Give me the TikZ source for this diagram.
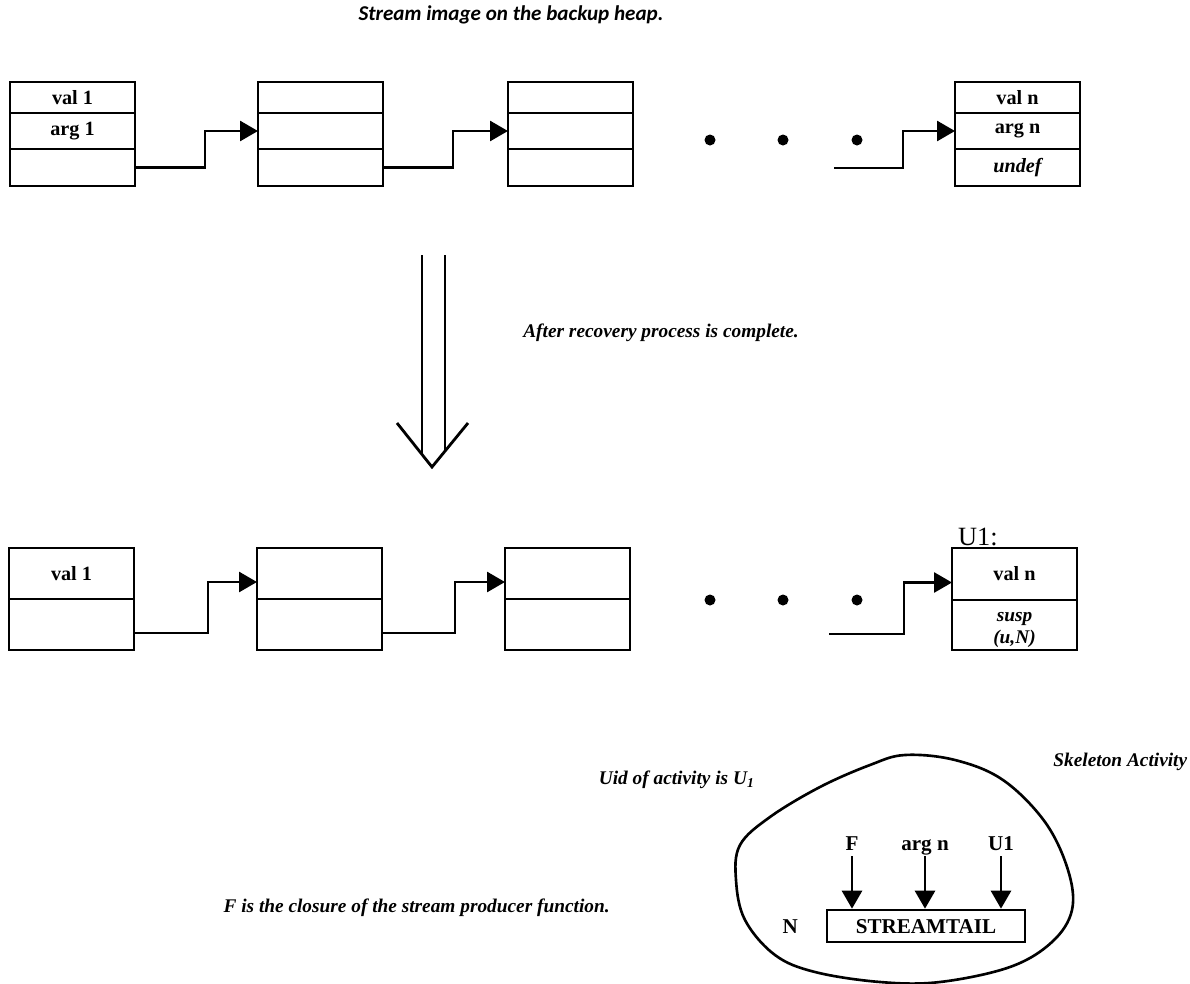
\documentclass[tikz,border=0pt]{standalone}
\usepackage{fontspec}
\setmainfont{Liberation Serif}
\newfontfamily\titlefont{Carlito}
\usetikzlibrary{arrows.meta,positioning}

\begin{document}
\begin{tikzpicture}[
  cell/.style={draw,line width=1.5pt,minimum width=2.5cm,inner sep=0pt,outer sep=0pt,font=\bfseries\fontsize{11.5}{11.5}\selectfont},
  link/.style={line width=1.6pt,-{Triangle[length=0.36cm,width=0.4cm]}},
  note/.style={font=\bfseries\itshape\fontsize{11}{13}\selectfont,inner sep=0pt},
  lab/.style={font=\bfseries\fontsize{12}{12}\selectfont,text height=8pt,text depth=0pt}]
\useasboundingbox (0,0) rectangle (23.8,-19.68);
\node[font=\titlefont\bfseries\itshape\fontsize{12}{12}\selectfont] (title) at (10.22,-0.3) {Stream image on the backup heap.};
\foreach \i/\x/\va/\ar in {1/0.2/val 1/arg 1,2/5.16//,3/10.16//}{
  \node[cell,minimum height=0.62cm,anchor=north west] (a\i v) at (\x,-1.64) {\va};
  \node[cell,minimum height=0.72cm,below=0pt of a\i v] (a\i g) {\ar};
  \node[cell,minimum height=0.74cm,below=0pt of a\i g] (a\i e) {};
}
\node[cell,minimum height=0.62cm,anchor=north west] (anv) at (19.1,-1.64) {val n};
\node[cell,minimum height=0.72cm,below=0pt of anv] (ang) {arg n};
\node[cell,minimum height=0.74cm,below=0pt of ang,font=\bfseries\itshape\fontsize{11.5}{11.5}\selectfont] (ane) {undef};
\draw[link] (a1e.east) -- ++(1.4,0) |- (a2g.west);
\draw[link] (a2e.east) -- ++(1.4,0) |- (a3g.west);
\coordinate (aout) at (16.68,-3.36);
\draw[link] (aout) -- ++(1.38,0) |- (ang.west);
\foreach \x in {14.2,15.66,17.14}{
  \fill (\x,-2.8) circle (0.11);
  \fill (\x,-12) circle (0.11);
}
\draw[line width=1.6pt] (8.44,-5.1) -- (8.44,-9.06) (8.9,-5.1) -- (8.9,-9.02);
\draw[line width=1.6pt] (7.94,-8.46) -- (8.64,-9.34) -- (9.36,-8.46);
\node[note,anchor=west] (recov) at (10.46,-6.66) {After recovery process is complete.};
\foreach \i/\x/\va in {1/0.18/val 1,2/5.14/,3/10.1/}{
  \node[cell,minimum height=1.02cm,anchor=north west] (b\i v) at (\x,-10.96) {\va};
  \node[cell,minimum height=1.02cm,below=0pt of b\i v] (b\i e) {};
}
\node[cell,minimum height=1.04cm,anchor=north west] (bnv) at (19.04,-10.96) {val n};
\node[cell,minimum height=1.0cm,below=0pt of bnv] (bne) {};
\node[align=center,inner sep=0pt,font=\bfseries\itshape\fontsize{11}{12}\selectfont] (bnt) at ([yshift=-0.1cm]bne.center) {susp\\(u,N)};
\node[anchor=south west,inner sep=1pt,font=\fontsize{15}{15}\selectfont] (ulab) at ([xshift=0.08cm]bnv.north west) {U1:};
\draw[link] ([yshift=-0.17cm]b1e.east) -- ++(1.48,0) |- ([yshift=-0.17cm]b2v.west);
\draw[link] ([yshift=-0.17cm]b2e.east) -- ++(1.46,0) |- ([yshift=-0.17cm]b3v.west);
\coordinate (bout) at (16.58,-12.68);
\draw[link] (bout) -- ++(1.5,0) |- ([yshift=-0.17cm]bnv.west);
\draw[line width=1.5pt] plot[smooth cycle,tension=0.6] coordinates {
  (18.1,-15.1) (19.1,-15.2) (20.06,-15.6) (20.9,-16.44) (21.36,-17.4) (21.44,-18.2)
  (21.04,-18.84) (20.2,-19.34) (18.8,-19.64) (17.6,-19.64) (16.3,-19.44) (15.5,-19.1)
  (14.9,-18.4) (14.72,-17.6) (14.8,-16.9) (15.4,-16.34) (16.4,-15.74) (17.4,-15.3)};
\node[note,anchor=east] (skel) at (23.75,-15.24) {Skeleton Activity};
\node[note,anchor=east] (uid) at (15.1,-15.6) {Uid of activity is U\textsubscript{1}};
\node[note,anchor=east] (fclos) at (12.2,-18.16) {F is the closure of the stream producer function.};
\node[lab] (lf) at (17.04,-16.86) {F};
\node[lab] (la) at (18.5,-16.86) {arg n};
\node[lab] (lu) at (20.02,-16.86) {U1};
\node[lab,draw,line width=1.5pt,minimum width=3.96cm,minimum height=0.64cm,inner sep=0pt] (stail) at (18.52,-18.52) {STREAMTAIL};
\node[lab,inner sep=0pt,left=0.55cm of stail] (nlab) {N};
\foreach \t in {lf,la,lu}
  \draw[link] (\t.south) -- (\t.south |- stail.north);
\end{tikzpicture}
\end{document}
